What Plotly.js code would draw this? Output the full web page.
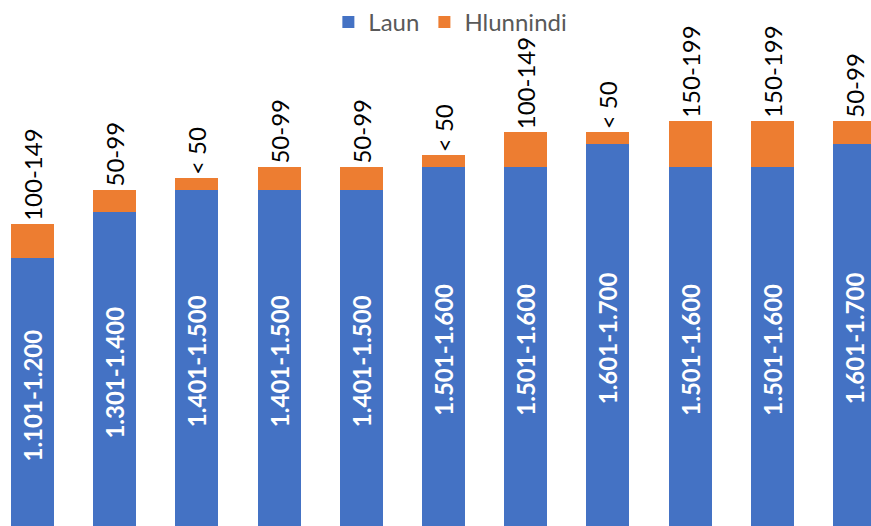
<!DOCTYPE html>
<html>
<head>
<meta charset="utf-8">
<script src="https://cdn.plot.ly/plotly-3.0.1.min.js"></script>
<style>html,body{margin:0;padding:0;background:#fff;}#chart{width:871px;height:526px;}</style>
</head>
<body>
<div id="chart"></div>
<script>
// Categories (positions of the bars, not shown as ticks)
var categories = ['1','2','3','4','5','6','7','8','9','10','11'];
// Laun (salary) bands and the values (upper bound of band)
var launLabels = ['1.101-1.200','1.301-1.400','1.401-1.500','1.401-1.500','1.401-1.500','1.501-1.600','1.501-1.600','1.601-1.700','1.501-1.600','1.501-1.600','1.601-1.700'];
var launValues = [1200,1400,1500,1500,1500,1600,1600,1700,1600,1600,1700];
// Hlunnindi (benefits) bands and values
var hlunLabels = ['100-149','50-99','< 50','50-99','50-99','< 50','100-149','< 50','150-199','150-199','50-99'];
var hlunValues = [150,100,50,100,100,50,150,50,200,200,100];

var blue = '#4472C4';
var orange = '#ED7D31';

var traces = [
  {
    type: 'bar', name: 'Laun', x: categories, y: launValues,
    marker: {color: blue},
    text: launLabels, textposition: 'inside', insidetextanchor: 'middle',
    textangle: -90, constraintext: 'none',
    textfont: {family: 'Lato, "Open Sans", sans-serif', size: 24, color: '#ffffff', weight: 'bold'},
    hoverinfo: 'none'
  },
  {
    type: 'bar', name: 'Hlunnindi', x: categories, y: hlunValues,
    marker: {color: orange},
    text: hlunLabels, textposition: 'outside',
    textangle: -90, constraintext: 'none', cliponaxis: false,
    textfont: {family: 'Lato, "Open Sans", sans-serif', size: 24, color: '#000000'},
    hoverinfo: 'none'
  }
];

var layout = {
  width: 871, height: 526,
  margin: {l: 0, r: 0, t: 0, b: 0},
  paper_bgcolor: '#ffffff', plot_bgcolor: '#ffffff',
  barmode: 'stack', bargap: 0.477,
  showlegend: true,
  legend: {
    orientation: 'h', x: 0.377, xanchor: 'left', y: 0.958, yanchor: 'middle',
    font: {family: 'Lato, "Open Sans", sans-serif', size: 24, color: '#595959'},
    itemwidth: 30, traceorder: 'normal', bgcolor: 'rgba(0,0,0,0)'
  },
  xaxis: {type: 'category', range: [-0.395, 10.2], showticklabels: false, showgrid: false, zeroline: false, showline: false, ticks: ''},
  yaxis: {range: [30.6, 2327.5], showticklabels: false, showgrid: false, zeroline: false, showline: false, ticks: ''}
};

Plotly.newPlot('chart', traces, layout, {staticPlot: true, displayModeBar: false});
</script>
</body>
</html>
